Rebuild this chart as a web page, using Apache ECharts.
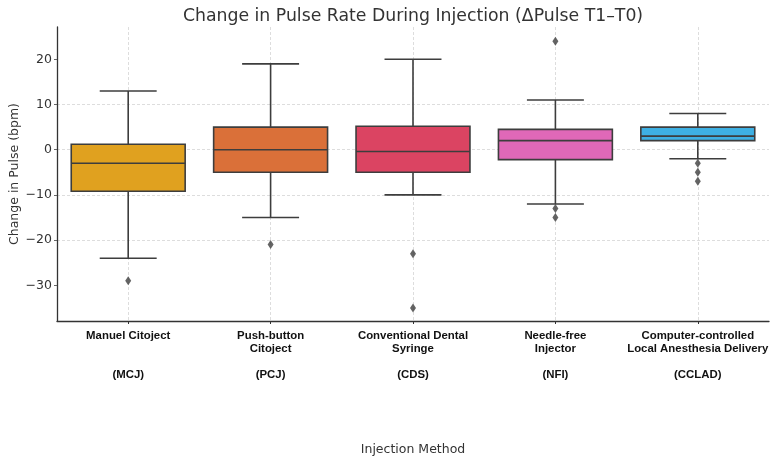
<!DOCTYPE html>
<html>
<head>
<meta charset="utf-8">
<script src="https://cdn.jsdelivr.net/npm/echarts@6/dist/echarts.min.js"></script>
<style>
html,body{margin:0;padding:0;background:#fff;}
#chart{width:776px;height:463px;}
</style>
</head>
<body>
<div id="chart"></div>
<script>
// ---- data ----
const categories = ['Manuel Citoject (MCJ)', 'Push-button Citoject (PCJ)', 'Conventional Dental Syringe (CDS)', 'Needle-free Injector (NFI)', 'Computer-controlled Local Anesthesia Delivery (CCLAD)'];
const labelLines = [
  ['Manuel Citoject', '', '', '(MCJ)'],
  ['Push-button', 'Citoject', '', '(PCJ)'],
  ['Conventional Dental', 'Syringe', '', '(CDS)'],
  ['Needle-free', 'Injector', '', '(NFI)'],
  ['Computer-controlled', 'Local Anesthesia Delivery', '', '(CCLAD)']
];
const whiskerLow = [-24, -15, -10, -12, -2];
const q1 = [-9.2, -5, -5, -2.2, 2];
const median = [-3, 0, -0.4, 2, 3];
const q3 = [1.2, 5, 5.2, 4.5, 5];
const whiskerHigh = [13, 19, 20, 11, 8];
const outliers = [
  [0, -29],
  [1, -21],
  [2, -23], [2, -35],
  [3, 24], [3, -13], [3, -15],
  [4, -3], [4, -5], [4, -7]
];
const yTicks = [-30, -20, -10, 0, 10, 20];

// ---- style ----
const boxColors = ['#E0A11F', '#DA7039', '#DB4462', '#E068B8', '#3EB0E3'];
const edge = '#3d3d3d';

const boxData = categories.map((c, i) => [i, whiskerLow[i], q1[i], median[i], q3[i], whiskerHigh[i]]);

const chart = echarts.init(document.getElementById('chart'), null, {renderer: 'canvas'});
const sans = 'DejaVu Sans';

chart.setOption({
  backgroundColor: '#ffffff',
  animation: false,
  title: {
    text: 'Change in Pulse Rate During Injection (\u0394Pulse T1\u2013T0)',
    left: 408, top: 3, textAlign: 'center',
    textStyle: {fontFamily: sans, fontSize: 17.3, fontWeight: 'normal', color: '#333333'}
  },
  grid: {left: 57, right: 7, top: 27, bottom: 142, containLabel: false, outerBoundsMode: 'none'},
  xAxis: {
    type: 'category',
    data: categories,
    boundaryGap: true,
    name: 'Injection Method',
    nameLocation: 'middle',
    nameGap: 122,
    nameTextStyle: {fontFamily: sans, fontSize: 12.5, color: '#333333'},
    axisLine: {show: true, onZero: false, lineStyle: {color: '#333333', width: 1.3}},
    axisTick: {show: true, alignWithLabel: true, length: 3, lineStyle: {color: '#333333'}},
    splitLine: {show: true, alignWithLabel: true, lineStyle: {color: '#d4d4d4', type: [3, 2], width: 0.8}},
    axisLabel: {
      interval: 0,
      margin: 8,
      fontFamily: 'Liberation Sans',
      fontWeight: 'bold',
      fontSize: 11.4,
      lineHeight: 13.2,
      color: '#111111',
      formatter: function (v, idx) { return labelLines[idx].join('\n'); }
    }
  },
  yAxis: {
    type: 'value',
    min: -37.9,
    max: 27.15,
    interval: 10,
    name: 'Change in Pulse (bpm)',
    nameLocation: 'middle',
    nameGap: 36,
    nameMoveOverlap: false,
    nameTextStyle: {fontFamily: sans, fontSize: 12.5, color: '#333333'},
    axisLine: {show: true, onZero: false, lineStyle: {color: '#333333', width: 1.3}},
    axisTick: {show: true, length: 3, lineStyle: {color: '#666666'},
      customValues: yTicks},
    axisLabel: {
      margin: 5,
      fontFamily: sans, fontSize: 12.5, color: '#333333',
      customValues: yTicks,
      formatter: function (v) { return v < 0 ? '\u2212' + Math.abs(v) : String(v); }
    },
    splitLine: {show: true, showMinLine: false, showMaxLine: false,
      lineStyle: {color: '#d4d4d4', type: [3, 2], width: 0.8}}
  },
  series: [
    {
      type: 'custom',
      name: 'box',
      data: boxData,
      encode: {x: 0, y: [1, 2, 3, 4, 5]},
      z: 3,
      renderItem: function (params, api) {
        const x = api.value(0);
        const pLow = api.coord([x, api.value(1)]);
        const pQ1 = api.coord([x, api.value(2)]);
        const pMed = api.coord([x, api.value(3)]);
        const pQ3 = api.coord([x, api.value(4)]);
        const pHigh = api.coord([x, api.value(5)]);
        const band = api.size([1, 0])[0];
        const bw = band * 0.8;
        const cw = bw / 2;
        const cx = pQ1[0];
        const ls = {stroke: edge, lineWidth: 1.6, fill: null};
        return {
          type: 'group',
          children: [
            {type: 'line', shape: {x1: cx, y1: pQ3[1], x2: cx, y2: pHigh[1]}, style: ls},
            {type: 'line', shape: {x1: cx, y1: pQ1[1], x2: cx, y2: pLow[1]}, style: ls},
            {type: 'line', shape: {x1: cx - cw / 2, y1: pHigh[1], x2: cx + cw / 2, y2: pHigh[1]}, style: ls},
            {type: 'line', shape: {x1: cx - cw / 2, y1: pLow[1], x2: cx + cw / 2, y2: pLow[1]}, style: ls},
            {type: 'rect', shape: {x: cx - bw / 2, y: pQ3[1], width: bw, height: pQ1[1] - pQ3[1]},
              style: {fill: boxColors[params.dataIndex], stroke: edge, lineWidth: 1.6}},
            {type: 'line', shape: {x1: cx - bw / 2, y1: pMed[1], x2: cx + bw / 2, y2: pMed[1]}, style: ls}
          ]
        };
      }
    },
    {
      type: 'scatter',
      name: 'outliers',
      data: outliers,
      symbol: 'diamond',
      symbolSize: [6, 9],
      itemStyle: {color: edge},
      z: 4
    }
  ]
});
</script>
</body>
</html>
